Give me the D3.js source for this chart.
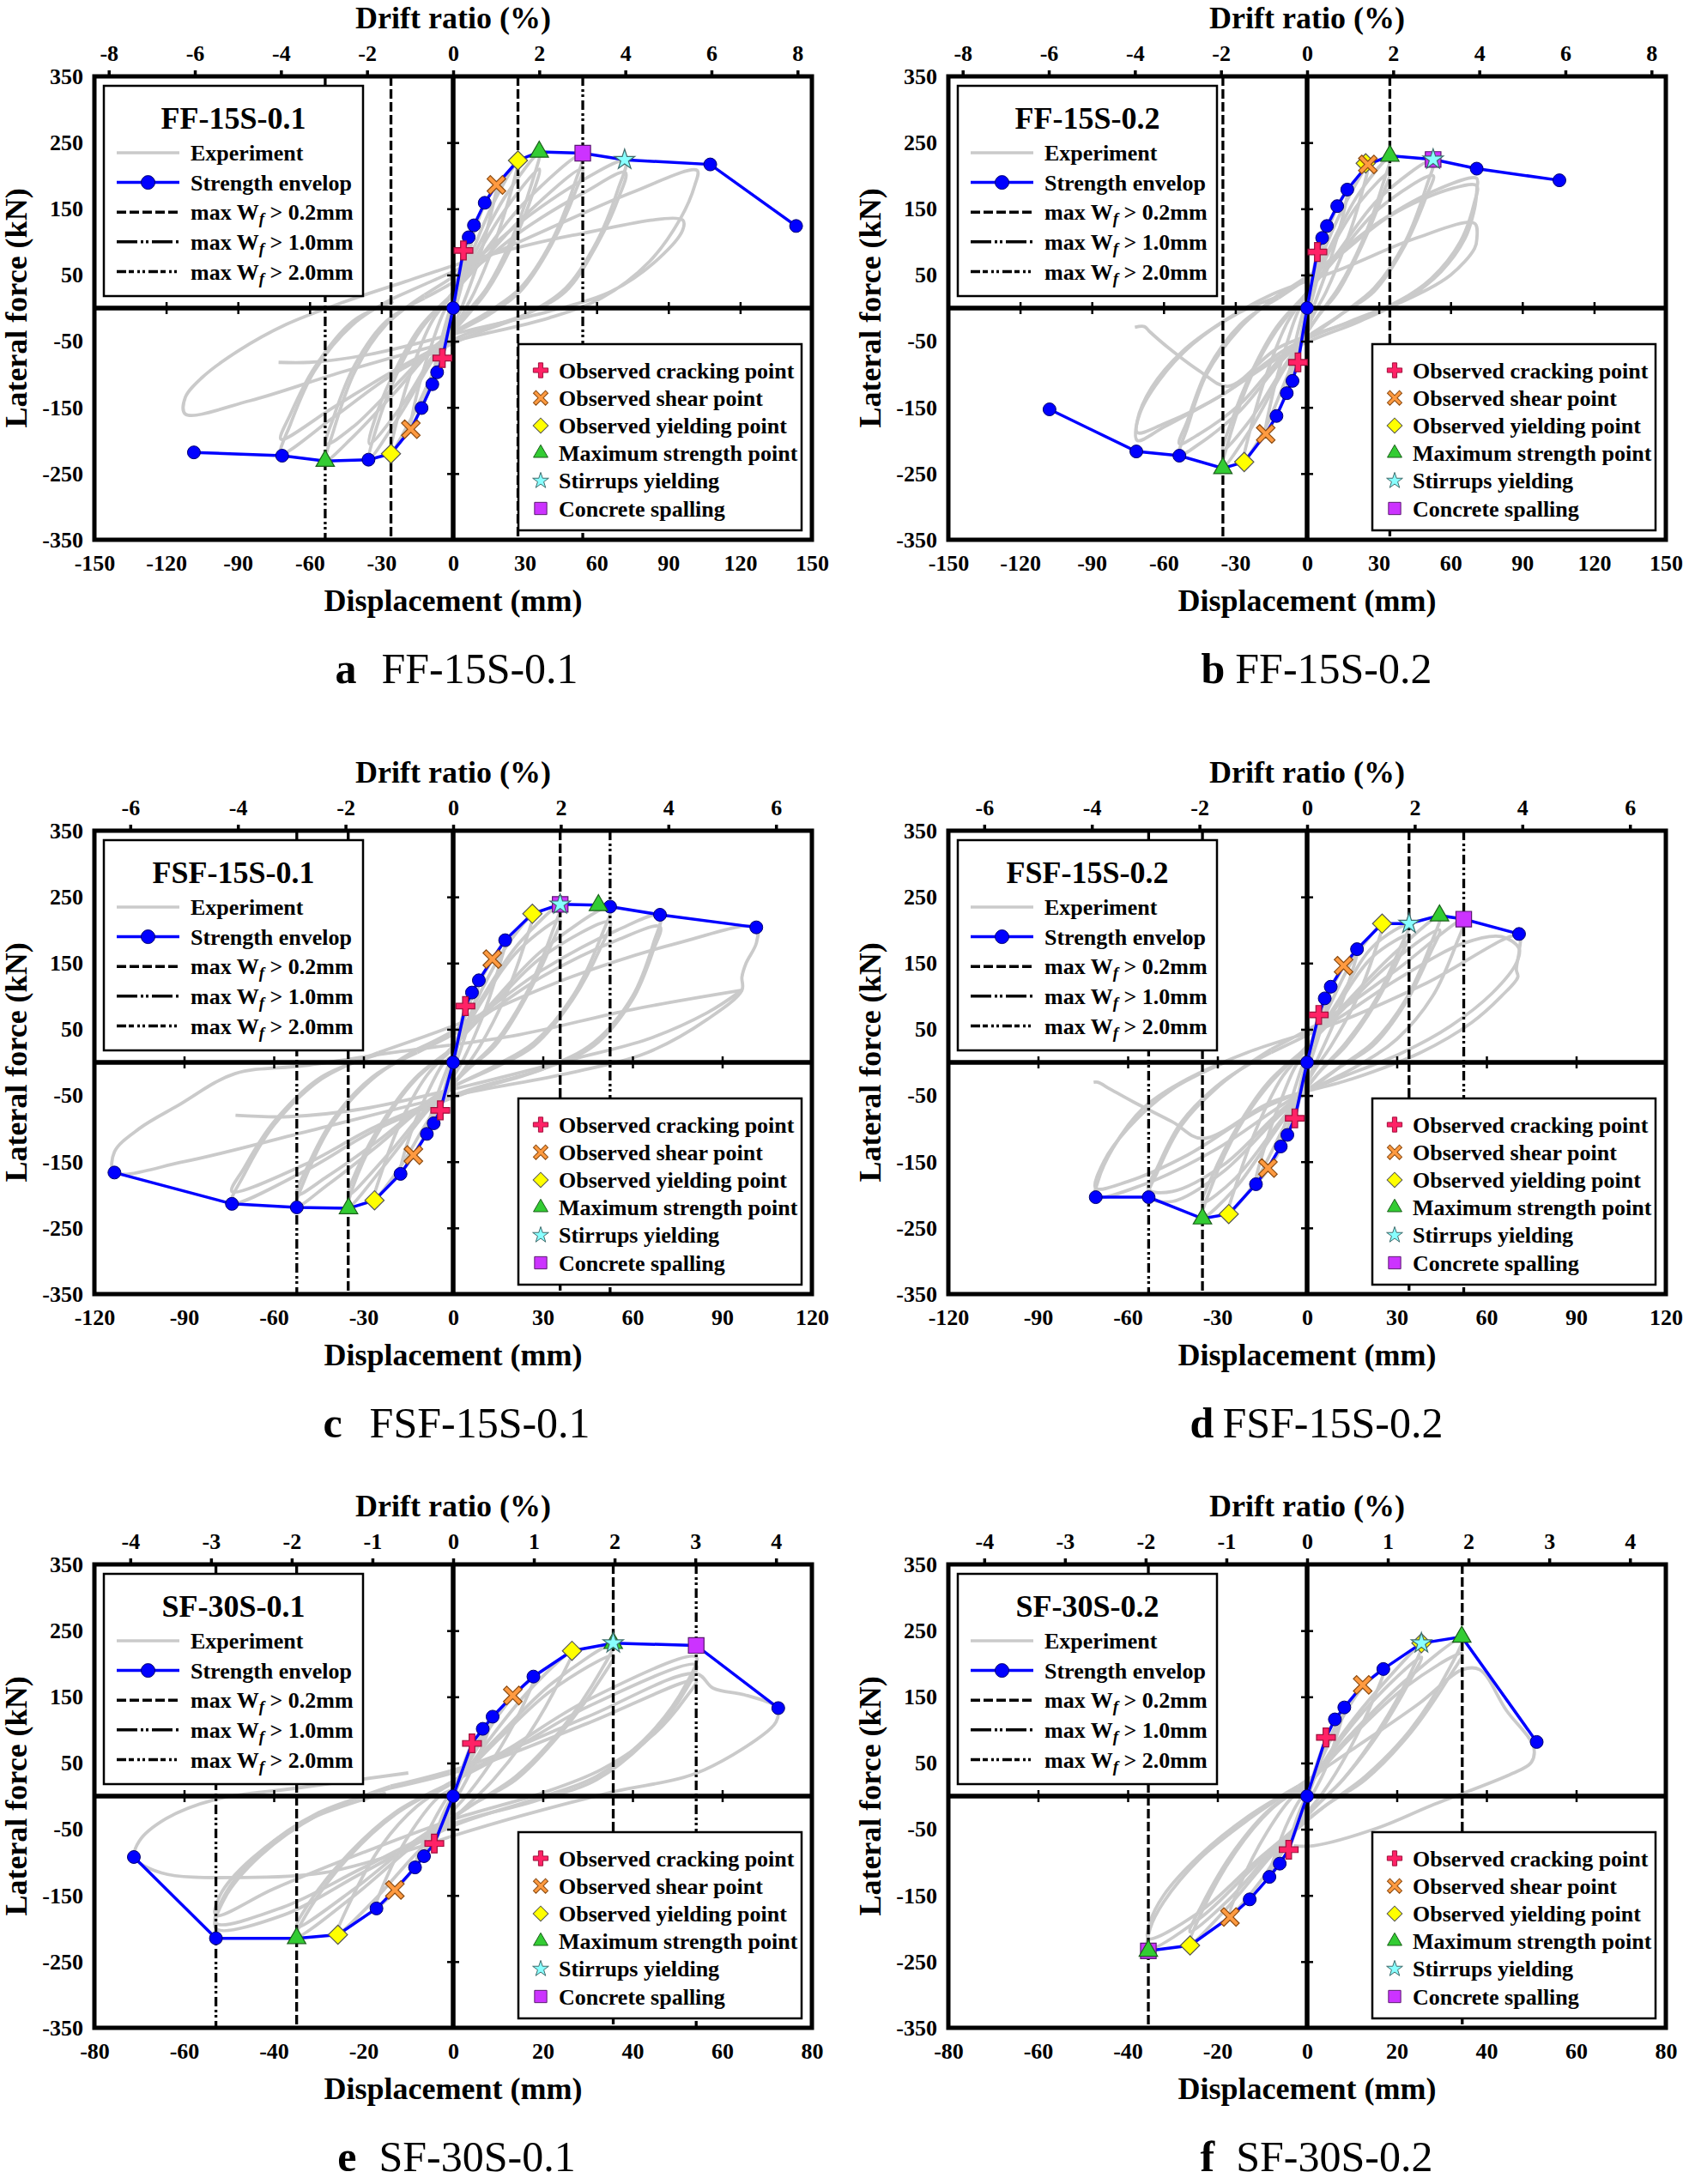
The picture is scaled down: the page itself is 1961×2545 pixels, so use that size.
<!DOCTYPE html>
<html>
<head>
<meta charset="utf-8">
<script src="https://cdn.jsdelivr.net/npm/d3@7"></script>
<style>
  body { margin: 0; background: #fff; }
</style>
</head>
<body>
<script>
// ---- data ----
const panelNames = ["FF-15S-0.1", "FF-15S-0.2", "FSF-15S-0.1", "FSF-15S-0.2", "SF-30S-0.1", "SF-30S-0.2"];
const panelLetters = ["a", "b", "c", "d", "e", "f"];
const dispMax = [150, 150, 120, 120, 80, 80];      // displacement axis (mm)
const dispStep = [30, 30, 30, 30, 20, 20];
const driftMax = [8, 8, 6, 6, 4, 4];               // drift ratio axis (%)
const driftStep = [2, 2, 2, 2, 1, 1];
const forceLabels = [-350, -250, -150, -50, 50, 150, 250, 350];
const forceTicks = [-250, -150, -50, 50, 150, 250];
const colHeight = 1800; // mm, drift = disp / H

// strength envelopes [disp, force]
const envelopeA = [[-108.4,-218],[-71.5,-223],[-53.5,-231],[-35.4,-229],[-26,-220],[-17.7,-183],[-13.2,-151],[-8.7,-115],[-6.7,-97],[-4.5,-75.5],[0,0],[4.3,87],[6.5,107],[8.7,125],[13.2,159],[18.1,186],[27.1,223],[36,236],[54.2,234],[71.7,224],[107.5,217],[143.4,124]];
const envelopeB = [[-107.7,-153],[-71.4,-216.6],[-53.4,-223],[-35.2,-242],[-26.3,-232.5],[-17.3,-190],[-12.8,-163],[-8.5,-128.5],[-6.1,-110],[-3.8,-82],[0,0],[4.3,84.8],[6.3,106],[8.3,124],[12.6,154],[16.8,179],[25.4,217],[34.6,230],[52.7,224.5],[70.9,210.6],[105.5,193]];
const envelopeC = [[-113.3,-166.4],[-74,-213.7],[-52.3,-219],[-35,-220.5],[-26.3,-208.3],[-17.6,-168.4],[-13.3,-140],[-8.8,-108],[-6.5,-92],[-4.3,-72.4],[0,0],[4.1,85],[6.3,105.5],[8.6,124],[13.1,156],[17.4,184.6],[26.5,224.5],[35.8,238.7],[48.6,237.4],[52.5,235.3],[69.2,223],[101.4,204]];
const envelopeD = [[-70.7,-203.6],[-53,-203.6],[-35,-236],[-26.2,-229],[-17.1,-184],[-13.1,-159.6],[-8.8,-127],[-6.6,-109.6],[-4.1,-84.5],[0,0],[3.9,71.7],[5.9,96.7],[7.9,114.3],[12.2,146],[16.7,171],[25.1,209.6],[34.1,209.6],[44.3,221.8],[52.4,216.4],[70.9,194]];
const envelopeE = [[-71.2,-92],[-52.9,-214.7],[-34.9,-214.7],[-25.7,-209.3],[-17.1,-169.7],[-13,-141.8],[-8.5,-107.7],[-6.5,-90.7],[-4.2,-71.6],[0,0],[4.2,79.7],[6.6,101.6],[8.8,120],[13.3,152],[17.9,180.6],[26.5,219.5],[35.7,231],[54.2,227.6],[72.5,133]];
const envelopeF = [[-35.4,-233.8],[-26.1,-225.6],[-17.2,-182.7],[-12.8,-156],[-8.4,-122],[-6.1,-102],[-4.1,-81],[0,0],[4.2,88.6],[6.2,115.9],[8.3,134],[12.4,168],[17,192],[25.5,231],[34.5,240.6],[51.2,81.8]];

// damage points per panel
const crackPts = [[[4.3,87],[-4.5,-75.5]], [[4.3,84.8],[-3.8,-82]], [[4.1,85],[-4.3,-72.4]], [[3.9,71.7],[-4.1,-84.5]], [[4.2,79.7],[-4.2,-71.6]], [[4.2,88.6],[-4.1,-81]]];
const shearPts = [[[18.1,186],[-17.7,-183]], [[25.4,217],[-17.3,-190]], [[13.1,156],[-13.3,-140]], [[12.2,146],[-13.1,-159.6]], [[13.3,152],[-13,-141.8]], [[12.4,168],[-17.2,-182.7]]];
const yieldPts = [[[27.1,223],[-26,-220]], [[24.5,218.6],[-26.3,-232.5]], [[26.5,224.5],[-26.3,-208.3]], [[25.1,209.6],[-26.2,-229]], [[26.5,219.5],[-25.7,-209.3]], [[25.5,231],[-26.1,-225.6]]];
const maxPts = [[[36,236],[-53.5,-231]], [[34.6,230],[-35.2,-242]], [[48.6,237.4],[-35,-220.5]], [[44.3,221.8],[-35,-236]], [[35.7,231],[-34.9,-214.7]], [[34.5,240.6],[-35.4,-233.8]]];
const stirrupPts = [[[71.7,224]], [[52.7,224.5]], [[35.8,238.7]], [[34.1,209.6]], [[35.7,231]], [[25.5,231]]];
const spallPts = [[[54.2,234]], [[52.7,224.5]], [[35.8,238.7]], [[52.4,216.4]], [[54.2,227.6]], [[-35.4,-233.8]]];

// crack width lines [disp, level]
const crackLines = [
  [[-26,"0.2"],[27.1,"0.2"],[-53.5,"1.0"],[54.2,"2.0"]],
  [[-35.2,"0.2"],[34.6,"0.2"]],
  [[-35.1,"0.2"],[35.8,"0.2"],[-52.3,"1.0"],[52.5,"1.0"]],
  [[-35,"0.2"],[34.1,"0.2"],[-53,"1.0"],[52.4,"2.0"]],
  [[-34.9,"0.2"],[35.7,"0.2"],[-52.9,"1.0"],[54.2,"2.0"]],
  [[-35.4,"0.2"],[34.6,"0.2"]]
];

// experimental hysteresis loops (approximate trace)
const expA = [
  [[0,0],[2,45],[4.3,85],[3.5,60],[1,15],[0,-5],[-2,-40],[-4.5,-74],[-3.6,-50],[-1,-10],[0,0]],
  [[0,0],[4,60],[8.7,122],[7.5,95],[4,40],[1,0],[-3,-50],[-8.7,-112],[-7.5,-85],[-4,-35],[-1,0],[0,5]],
  [[0,5],[6,85],[13,155],[18,184],[16,145],[10,65],[4,5],[-2,-45],[-10,-120],[-17.7,-180],[-15.5,-135],[-9,-55],[-3,0],[0,10]],
  [[0,10],[8,85],[17,160],[27,221],[24.5,180],[17,95],[9,25],[3,-15],[-8,-95],[-18,-170],[-26,-218],[-23.5,-170],[-16,-80],[-8,-15],[0,20]],
  [[0,20],[10,90],[22,170],[36,234],[33,190],[24,100],[14,30],[5,-10],[-8,-75],[-22,-160],[-35,-227],[-32,-180],[-23,-95],[-13,-30],[-2,15]],
  [[0,15],[10,80],[22,150],[36,210],[33,170],[24,90],[14,25],[5,-15],[-8,-70],[-22,-150],[-35,-205],[-32,-160],[-23,-85],[-13,-25],[-2,15]],
  [[-2,15],[12,80],[30,160],[54,232],[51,190],[41,100],[28,30],[15,-5],[-5,-50],[-25,-130],[-42,-195],[-53,-229],[-50,-185],[-41,-95],[-28,-25],[-12,20]],
  [[-2,15],[12,70],[30,140],[54,210],[51,175],[41,95],[28,25],[15,-10],[-5,-50],[-25,-120],[-42,-180],[-53,-205],[-50,-165],[-41,-85],[-28,-20],[-12,15]],
  [[-12,20],[5,60],[30,135],[55,195],[72,222],[69,180],[60,100],[47,30],[30,-10],[5,-45],[-25,-100],[-50,-165],[-72,-220],[-68,-175],[-58,-95],[-42,-25],[-25,15]],
  [[-12,15],[5,50],[30,120],[55,175],[72,205],[69,165],[60,95],[47,25],[30,-10],[5,-40],[-25,-95],[-50,-150],[-72,-198],[-68,-160],[-58,-90],[-42,-20],[-25,10]],
  [[-25,15],[0,55],[40,120],[75,175],[102,208],[101,185],[95,135],[82,70],[62,15],[40,-15],[0,-50],[-45,-95],[-85,-140],[-112,-160],[-112,-135],[-105,-105],[-90,-65],[-70,-25],[-45,10],[-20,40],[10,75],[50,110],[96,133],[96,118],[86,75],[66,25],[40,-5],[5,-35],[-35,-70],[-60,-82],[-73,-82]]
];
const expB = [
  [[0,0],[2,45],[4.3,84],[3.5,60],[1,15],[0,-5],[-2,-45],[-3.8,-80],[-3,-55],[-1,-12],[0,0]],
  [[0,0],[4,65],[8.3,122],[7,95],[4,40],[1,0],[-3,-55],[-8.5,-126],[-7.3,-95],[-4,-38],[-1,0],[0,5]],
  [[0,5],[6,90],[12.6,152],[16.8,177],[15,140],[9,65],[3,5],[-3,-55],[-10,-140],[-17.3,-188],[-15,-140],[-9,-60],[-3,0],[0,10]],
  [[0,10],[8,95],[17,165],[25.4,215],[23,175],[16,95],[8,25],[2,-15],[-8,-100],[-18,-185],[-26.3,-230],[-23.5,-180],[-16,-90],[-8,-20],[0,20]],
  [[0,20],[10,95],[22,175],[34.6,228],[31.5,185],[23,100],[13,30],[4,-15],[-10,-95],[-24,-185],[-35.2,-240],[-32,-190],[-23,-100],[-13,-35],[-2,15]],
  [[0,15],[10,90],[22,160],[34.6,205],[31.5,170],[23,95],[13,25],[4,-15],[-10,-90],[-24,-170],[-35.2,-215],[-32,-175],[-23,-95],[-13,-30],[-2,15]],
  [[-2,15],[12,80],[30,165],[52.7,223],[50,185],[41,100],[28,30],[14,-10],[-8,-70],[-28,-155],[-45,-205],[-53.4,-222],[-50,-180],[-42,-100],[-28,-30],[-12,20]],
  [[-2,15],[12,75],[30,150],[52.7,200],[50,170],[41,95],[28,25],[14,-10],[-8,-65],[-28,-145],[-45,-190],[-53.4,-205],[-50,-170],[-42,-95],[-28,-25],[-12,15]],
  [[-12,15],[10,70],[35,140],[60,180],[70.9,185],[70,160],[64,100],[52,45],[38,10],[18,-20],[-8,-60],[-35,-130],[-60,-175],[-71,-188],[-70,-160],[-62,-110],[-48,-55],[-30,-10],[-10,20]],
  [[-12,20],[5,60],[30,130],[55,180],[70.9,196],[71,180],[70,150],[66,105],[56,55],[42,15],[22,-20],[-5,-60],[-35,-130],[-60,-180],[-71,-200],[-71,-170],[-65,-120],[-52,-65],[-35,-20],[-15,20],[15,60],[45,105],[70,128],[71,105],[70,90],[60,50],[40,10],[15,-25],[-12,-60],[-33,-118],[-45,-95],[-58,-60],[-66,-35],[-68,-28],[-72,-29]]
];
const expC = [
  [[0,0],[2,48],[4.1,84],[3.3,60],[1,15],[0,-5],[-2,-40],[-4.3,-71],[-3.4,-50],[-1,-10],[0,0]],
  [[0,0],[4,70],[8.6,122],[7.4,95],[4,40],[1,0],[-3,-45],[-8.8,-106],[-7.5,-80],[-4,-33],[-1,0],[0,5]],
  [[0,5],[6,95],[13.1,155],[17.4,182],[15.4,145],[9.5,65],[3.5,5],[-3,-45],[-10,-115],[-17.6,-166],[-15.5,-125],[-9,-50],[-3,0],[0,10]],
  [[0,10],[8,95],[17,170],[26.5,222],[24,180],[17,95],[9,25],[3,-15],[-8,-85],[-18,-160],[-26.3,-206],[-23.5,-160],[-16,-75],[-8,-15],[0,20]],
  [[0,20],[10,100],[22,180],[35.8,237],[33,195],[24,100],[14,30],[5,-10],[-8,-70],[-22,-150],[-35,-218],[-32,-170],[-23,-90],[-13,-28],[-2,15]],
  [[0,15],[10,95],[22,170],[35.8,215],[33,180],[24,95],[14,25],[5,-10],[-8,-65],[-22,-140],[-35,-200],[-32,-160],[-23,-85],[-13,-25],[-2,15]],
  [[-2,15],[12,85],[30,170],[52.5,234],[49.5,190],[40,100],[27,30],[14,-5],[-5,-50],[-25,-125],[-42,-185],[-52.3,-217],[-49,-170],[-40,-90],[-27,-25],[-12,20]],
  [[-2,15],[12,80],[30,160],[52.5,212],[49.5,175],[40,95],[27,25],[14,-8],[-5,-48],[-25,-118],[-42,-172],[-52.3,-200],[-49,-160],[-40,-85],[-27,-22],[-12,15]],
  [[-12,20],[5,60],[30,140],[55,200],[69.2,222],[67,180],[60,100],[47,30],[30,-10],[5,-45],[-25,-100],[-50,-165],[-74,-212],[-70,-170],[-60,-95],[-44,-25],[-25,15]],
  [[-12,15],[5,55],[30,130],[55,185],[69.2,205],[67,170],[60,95],[47,25],[30,-10],[5,-42],[-25,-95],[-50,-155],[-74,-195],[-70,-160],[-60,-90],[-44,-22],[-25,12]],
  [[-25,15],[0,55],[40,130],[75,180],[101.4,204],[101.4,180],[98,150],[96.6,129],[96.6,109],[85,65],[65,15],[40,-15],[0,-50],[-45,-100],[-90,-150],[-113.3,-166],[-113.3,-135],[-105,-100],[-92,-65],[-73,-17],[-50,-5],[-20,15],[20,40],[60,80],[96.6,109]],
  [[96.6,109],[85,75],[65,35],[40,5],[5,-35],[-30,-70],[-55,-82],[-72.8,-80]]
];
const expD = [
  [[0,0],[2,40],[3.9,71],[3.1,50],[1,12],[0,-5],[-2,-45],[-4.1,-83],[-3.3,-58],[-1,-12],[0,0]],
  [[0,0],[4,65],[7.9,113],[6.8,88],[3.8,38],[1,0],[-3,-55],[-8.8,-125],[-7.5,-95],[-4,-38],[-1,0],[0,5]],
  [[0,5],[6,90],[12.2,144],[16.7,169],[14.7,132],[9,60],[3.5,5],[-3,-55],[-10,-140],[-17.1,-182],[-15,-140],[-9,-60],[-3,0],[0,10]],
  [[0,10],[8,90],[16,160],[25.1,208],[22.7,168],[16,90],[8,25],[2,-15],[-8,-100],[-18,-185],[-26.2,-227],[-23.4,-180],[-16,-90],[-8,-20],[0,20]],
  [[0,20],[10,90],[22,175],[34.1,208],[31,172],[23,95],[13,30],[4,-15],[-10,-100],[-24,-190],[-35,-234],[-31.8,-185],[-23,-100],[-13,-35],[-2,15]],
  [[0,15],[10,85],[22,160],[34.1,192],[31,160],[23,90],[13,25],[4,-15],[-10,-95],[-24,-175],[-35,-212],[-31.8,-172],[-23,-95],[-13,-30],[-2,15]],
  [[-2,15],[12,85],[28,160],[44.3,220],[41.5,180],[33,95],[22,30],[10,-10],[-8,-75],[-28,-165],[-45,-210],[-53,-203],[-50,-165],[-42,-95],[-28,-30],[-12,20]],
  [[-2,15],[12,80],[28,150],[44.3,200],[41.5,168],[33,90],[22,25],[10,-10],[-8,-70],[-28,-155],[-45,-195],[-53,-192],[-50,-158],[-42,-90],[-28,-28],[-12,15]],
  [[-12,15],[8,60],[30,125],[52.4,180],[65,190],[70.9,172],[70,150],[62,105],[48,55],[32,15],[10,-25],[-15,-70],[-40,-140],[-60,-180],[-70.7,-190],[-68,-150],[-60,-100],[-45,-40],[-25,5]],
  [[-12,20],[8,70],[30,140],[52.4,215],[50,180],[42,100],[30,35],[15,-10],[-5,-55],[-30,-130],[-55,-185],[-70.7,-203],[-70,-180],[-65,-130],[-55,-70],[-40,-25],[-20,15],[10,60],[40,120],[70.9,192],[71,170],[70,140],[70.5,129],[65,100],[55,60],[38,15],[15,-25],[-12,-60],[-35,-115],[-45,-90],[-58,-60],[-66,-40],[-70,-30],[-71.4,-30]]
];
const expE = [
  [[0,0],[2,42],[4.2,79],[3.4,55],[1,14],[0,-5],[-2,-38],[-4.2,-70],[-3.4,-48],[-1,-10],[0,0]],
  [[0,0],[4,62],[8.8,119],[7.5,92],[4,38],[1,0],[-3,-45],[-8.5,-106],[-7.3,-80],[-4,-33],[-1,0],[0,5]],
  [[0,5],[6,80],[13.3,150],[17.9,178],[15.8,140],[9.5,62],[3.5,5],[-3,-45],[-10,-120],[-17.1,-168],[-15,-125],[-9,-50],[-3,0],[0,10]],
  [[0,10],[8,85],[17,160],[26.5,218],[24,178],[17,95],[9,25],[3,-15],[-8,-85],[-18,-160],[-25.7,-207],[-23,-160],[-16,-75],[-8,-15],[0,20]],
  [[0,20],[10,90],[22,170],[35.7,229],[33,190],[24,100],[14,30],[5,-10],[-8,-70],[-22,-150],[-34.9,-212],[-32,-170],[-23,-90],[-13,-28],[-2,15]],
  [[0,15],[10,85],[22,160],[35.7,212],[33,178],[24,95],[14,25],[5,-10],[-8,-65],[-22,-140],[-34.9,-198],[-32,-160],[-23,-85],[-13,-25],[-2,15]],
  [[-2,15],[12,70],[30,145],[54.2,210],[52,170],[44,95],[32,30],[18,-5],[0,-45],[-20,-115],[-38,-180],[-52.9,-200],[-51,-155],[-43,-90],[-30,-28],[-14,15]],
  [[-2,15],[12,65],[30,135],[54.2,198],[52,162],[44,90],[32,25],[18,-8],[0,-42],[-20,-108],[-38,-168],[-52.9,-192],[-51,-150],[-43,-85],[-30,-25],[-14,12]],
  [[-14,12],[5,45],[30,110],[54.2,175],[52,150],[45,95],[33,40],[20,5],[0,-35],[-20,-85],[-40,-140],[-52.9,-180],[-52,-150],[-45,-95],[-32,-35],[-15,5]],
  [[-14,15],[5,50],[30,120],[54.2,185],[58,163],[65,153],[72,136],[72.5,129],[72,112],[69,92],[54,34],[36,7],[15,-30],[0,-60],[-10,-82],[-29,-116],[-47,-123],[-65,-116],[-71,-92],[-70,-68],[-64,-34],[-53,-5],[-35,12],[-10,35]]
];
const expF = [
  [[0,0],[2,45],[4.2,87],[3.4,62],[1,15],[0,-5],[-2,-42],[-4.1,-80],[-3.3,-55],[-1,-12],[0,0]],
  [[0,0],[4,70],[8.3,132],[7,100],[4,40],[1,0],[-3,-50],[-8.4,-120],[-7.2,-90],[-4,-35],[-1,0],[0,5]],
  [[0,5],[6,95],[12.4,165],[17,190],[15,150],[9,65],[3.5,5],[-3,-50],[-10,-125],[-17.2,-180],[-15,-135],[-9,-55],[-3,0],[0,10]],
  [[0,10],[8,95],[17,170],[25.5,228],[23,185],[16,100],[8,25],[2,-15],[-8,-90],[-18,-170],[-26.1,-223],[-23.5,-175],[-16,-85],[-8,-20],[0,20]],
  [[0,10],[8,90],[17,160],[25.5,210],[23,175],[16,95],[8,25],[2,-15],[-8,-85],[-18,-160],[-26.1,-205],[-23.5,-165],[-16,-80],[-8,-18],[0,15]],
  [[0,20],[10,95],[22,175],[34.5,238],[31.5,190],[23,100],[13,30],[4,-15],[-10,-95],[-24,-185],[-35.4,-230],[-35,-200],[-32,-160],[-24,-95],[-13,-35],[-2,15]],
  [[0,15],[10,90],[22,165],[34.5,215],[31.5,178],[23,95],[13,25],[4,-15],[-10,-90],[-24,-175],[-35.4,-215],[-35,-190],[-32,-150],[-24,-90],[-13,-30],[-2,15]],
  [[-2,15],[10,70],[25,140],[34.6,191],[38.5,191],[44.5,129],[50.5,75],[50,51],[45.7,34],[27.8,-14],[15.8,-48],[1.4,-75],[-3,-75]]
];

const envelopes = [envelopeA, envelopeB, envelopeC, envelopeD, envelopeE, envelopeF];
const experiments = [expA, expB, expC, expD, expE, expF];
const captionGap = [29, 12, 32, 10, 26, 25];

// ---- layout ----
const FONT = "'Liberation Serif', 'Times New Roman', serif";
const W = 836, H = 540;
const colX = [110, 1105];
const rowY = [89, 968, 1823];

// plus-shaped symbol, size = (total length)^2, arm thickness given as ratio
function plusSymbol(ratio) {
    return {
        draw: function(ctx, size) {
            const r = Math.sqrt(size) / 2, w = r * ratio;
            ctx.moveTo(-r, -w); ctx.lineTo(-w, -w); ctx.lineTo(-w, -r); ctx.lineTo(w, -r);
            ctx.lineTo(w, -w); ctx.lineTo(r, -w); ctx.lineTo(r, w); ctx.lineTo(w, w);
            ctx.lineTo(w, r); ctx.lineTo(-w, r); ctx.lineTo(-w, w); ctx.lineTo(-r, w);
            ctx.closePath();
        }
    };
}

const markerTypes = [
  {key: "crack", label: "Observed cracking point", sym: plusSymbol(0.3), size: 480, rot: 0, fill: "#ff2266", stroke: "#a0103c"},
  {key: "shear", label: "Observed shear point", sym: plusSymbol(0.21), size: 640, rot: 45, fill: "#ff9a40", stroke: "#8a4a10"},
  {key: "yield", label: "Observed yielding point", sym: d3.symbolSquare, size: 250, rot: 45, fill: "#ffff00", stroke: "#555"},
  {key: "max", label: "Maximum strength point", sym: d3.symbolTriangle, size: 200, rot: 0, fill: "#33cc33", stroke: "#1b5e1b"},
  {key: "stir", label: "Stirrups yielding", sym: d3.symbolStar, size: 175, rot: 0, fill: "#88ffff", stroke: "#3d6b6b"},
  {key: "spall", label: "Concrete spalling", sym: d3.symbolSquare, size: 330, rot: 0, fill: "#cc33ff", stroke: "#5a1a70"}
];
const markerData = {crack: crackPts, shear: shearPts, yield: yieldPts, max: maxPts, stir: stirrupPts, spall: spallPts};
// drawing order so overlaps look like the original
const drawOrder = ["spall", "yield", "shear", "crack", "max", "stir"];

const dashFor = {"0.2": "11,4", "1.0": "11,4,3,3,3,4", "2.0": "11,4,3,3,3,4"};

const svg = d3.select("body").append("svg")
    .attr("width", 1961)
    .attr("height", 2545)
    .style("font-family", FONT)
    .style("background", "#fff");

panelNames.forEach(function(name, i) {
    const g = svg.append("g")
        .attr("transform", "translate(" + colX[i % 2] + "," + rowY[Math.floor(i / 2)] + ")");
    drawPanel(g, i);
});

function drawPanel(g, i) {
    const xm = dispMax[i];
    const x = d3.scaleLinear().domain([-xm, xm]).range([0, W]);
    const drift = d3.scaleLinear().domain([-xm * 100 / colHeight, xm * 100 / colHeight]).range([0, W]);
    const y = d3.scaleLinear().domain([-350, 350]).range([H, 0]);

    g.append("clipPath").attr("id", "clip" + i)
        .append("rect").attr("width", W).attr("height", H);
    const plot = g.append("g").attr("clip-path", "url(#clip" + i + ")");

    // experiment curves
    const smooth = d3.line().x(d => x(d[0])).y(d => y(d[1])).curve(d3.curveCatmullRom.alpha(0.5));
    plot.selectAll("path.exp")
        .data(experiments[i])
        .join("path")
            .attr("class", "exp")
            .attr("d", smooth)
            .attr("fill", "none")
            .attr("stroke", "#cacaca")
            .attr("stroke-width", 3.8);

    // zero axes
    plot.append("line").attr("x1", 0).attr("x2", W).attr("y1", y(0)).attr("y2", y(0))
        .attr("stroke", "#000").attr("stroke-width", 5.5);
    plot.append("line").attr("x1", x(0)).attr("x2", x(0)).attr("y1", 0).attr("y2", H)
        .attr("stroke", "#000").attr("stroke-width", 5.5);

    const xTicks = d3.range(-xm + dispStep[i], xm, dispStep[i]).filter(v => v !== 0);
    [d3.axisBottom(x), d3.axisTop(x)].forEach(function(ax) {
        g.append("g")
            .attr("transform", "translate(0," + y(0) + ")")
            .call(ax.tickValues(xTicks).tickSize(7).tickFormat(""))
            .call(a => a.select(".domain").remove())
            .call(a => a.selectAll("line").attr("stroke-width", 2.5));
    });
    [d3.axisLeft(y), d3.axisRight(y)].forEach(function(ax) {
        g.append("g")
            .attr("transform", "translate(" + x(0) + ",0)")
            .call(ax.tickValues(forceTicks).tickSize(7).tickFormat(""))
            .call(a => a.select(".domain").remove())
            .call(a => a.selectAll("line").attr("stroke-width", 2.5));
    });

    // crack width lines
    plot.selectAll("line.crk")
        .data(crackLines[i])
        .join("line")
            .attr("class", "crk")
            .attr("x1", d => x(d[0])).attr("x2", d => x(d[0]))
            .attr("y1", 0).attr("y2", H)
            .attr("stroke", "#000")
            .attr("stroke-width", 3.3)
            .attr("stroke-dasharray", d => dashFor[d[1]]);

    // strength envelope
    plot.append("path")
        .datum(envelopes[i])
        .attr("d", d3.line().x(d => x(d[0])).y(d => y(d[1])))
        .attr("fill", "none")
        .attr("stroke", "#0000ff")
        .attr("stroke-width", 3.5);

    const marked = [];
    markerTypes.forEach(m => markerData[m.key][i].forEach(p => marked.push(p)));
    const plain = envelopes[i].filter(p => !marked.some(q => Math.abs(q[0] - p[0]) < 0.01 && Math.abs(q[1] - p[1]) < 0.01));
    plot.selectAll("circle.env")
        .data(plain)
        .join("circle")
            .attr("class", "env")
            .attr("cx", d => x(d[0]))
            .attr("cy", d => y(d[1]))
            .attr("r", 7.5)
            .attr("fill", "#0000ff")
            .attr("stroke", "#00006e")
            .attr("stroke-width", 1);

    drawOrder.forEach(function(key) {
        const m = markerTypes.find(t => t.key === key);
        plot.selectAll("path.mk-" + key)
            .data(markerData[key][i])
            .join("path")
                .attr("class", "mk-" + key)
                .attr("d", d3.symbol().type(m.sym).size(m.size))
                .attr("transform", d => "translate(" + x(d[0]) + "," + y(d[1]) + ") rotate(" + m.rot + ")")
                .attr("fill", m.fill)
                .attr("stroke", m.stroke)
                .attr("stroke-width", 1.2);
    });

    // left legend
    const lg = g.append("g").attr("transform", "translate(11,11)");
    lg.append("rect").attr("width", 302).attr("height", 245)
        .attr("fill", "#fff").attr("stroke", "#000").attr("stroke-width", 2.5);
    lg.append("text").attr("x", 151).attr("y", 37).attr("dy", "0.35em")
        .attr("text-anchor", "middle").attr("font-size", 36).attr("font-weight", "bold")
        .text(panelNames[i]);
    const rows = [78, 112.6, 147.2, 181.8, 216.4];
    lg.append("line").attr("x1", 15).attr("x2", 88).attr("y1", rows[0]).attr("y2", rows[0])
        .attr("stroke", "#cacaca").attr("stroke-width", 3.5);
    lg.append("line").attr("x1", 15).attr("x2", 88).attr("y1", rows[1]).attr("y2", rows[1])
        .attr("stroke", "#0000ff").attr("stroke-width", 3.5);
    lg.append("circle").attr("cx", 51.5).attr("cy", rows[1]).attr("r", 8)
        .attr("fill", "#0000ff").attr("stroke", "#00006e");
    const legDash = ["11,4", "24,4,3,3,3,4", "11,3,6,4,3,3,3,4"];
    legDash.forEach(function(dash, k) {
        lg.append("line").attr("x1", 15).attr("x2", 88).attr("y1", rows[2 + k]).attr("y2", rows[2 + k])
            .attr("stroke", "#000").attr("stroke-width", 3.5).attr("stroke-dasharray", dash);
    });
    const legText = ["Experiment", "Strength envelop"];
    legText.forEach(function(t, k) {
        lg.append("text").attr("x", 101).attr("y", rows[k]).attr("dy", "0.35em")
            .attr("font-size", 26).attr("font-weight", "bold").text(t);
    });
    ["0.2mm", "1.0mm", "2.0mm"].forEach(function(t, k) {
        const tx = lg.append("text").attr("x", 101).attr("y", rows[2 + k]).attr("dy", "0.35em")
            .attr("font-size", 26).attr("font-weight", "bold");
        tx.append("tspan").text("max W");
        tx.append("tspan").attr("font-style", "italic").attr("font-size", 19).attr("dy", 5).text("f");
        tx.append("tspan").attr("dy", -5).text(" > " + t);
    });

    // right legend
    const rg = g.append("g").attr("transform", "translate(494," + (H - 11 - 217) + ")");
    rg.append("rect").attr("width", 330).attr("height", 217)
        .attr("fill", "#fff").attr("stroke", "#000").attr("stroke-width", 2.5);
    markerTypes.forEach(function(m, k) {
        const yy = 30.5 + k * 32.2;
        rg.append("path")
            .attr("d", d3.symbol().type(m.sym).size(m.size * 0.62))
            .attr("transform", "translate(26," + yy + ") rotate(" + m.rot + ")")
            .attr("fill", m.fill).attr("stroke", m.stroke).attr("stroke-width", 1);
        rg.append("text").attr("x", 47).attr("y", yy).attr("dy", "0.35em")
            .attr("font-size", 26).attr("font-weight", "bold").text(m.label);
    });

    // frame
    g.append("rect").attr("width", W).attr("height", H)
        .attr("fill", "none").attr("stroke", "#000").attr("stroke-width", 5);

    // tick labels
    const fmt = d => String(d);
    g.append("g")
        .attr("transform", "translate(0," + H + ")")
        .call(d3.axisBottom(x).tickValues(d3.range(-xm, xm + 1, dispStep[i])).tickSize(0).tickPadding(18).tickFormat(fmt))
        .call(a => a.select(".domain").remove())
        .attr("font-family", FONT).attr("font-size", 26).attr("font-weight", "bold");
    const dm = driftMax[i];
    g.append("g")
        .call(d3.axisTop(drift).tickValues(d3.range(-dm, dm + 0.5, driftStep[i])).tickSize(7).tickPadding(11).tickFormat(fmt))
        .call(a => a.select(".domain").remove())
        .call(a => a.selectAll("line").attr("stroke-width", 3.5))
        .attr("font-family", FONT).attr("font-size", 26).attr("font-weight", "bold");
    g.append("g")
        .call(d3.axisLeft(y).tickValues(forceLabels).tickSize(0).tickPadding(13).tickFormat(fmt))
        .call(a => a.select(".domain").remove())
        .attr("font-family", FONT).attr("font-size", 26).attr("font-weight", "bold");

    // axis titles
    g.append("text").attr("x", W / 2).attr("y", -69).attr("dy", "0.35em")
        .attr("text-anchor", "middle").attr("font-size", 36).attr("font-weight", "bold")
        .text("Drift ratio (%)");
    g.append("text").attr("x", W / 2).attr("y", H + 70).attr("dy", "0.35em")
        .attr("text-anchor", "middle").attr("font-size", 36).attr("font-weight", "bold")
        .text("Displacement (mm)");
    g.append("text")
        .attr("transform", "translate(-92," + (H / 2) + ") rotate(-90)")
        .attr("dy", "0.35em")
        .attr("text-anchor", "middle").attr("font-size", 36).attr("font-weight", "bold")
        .text("Lateral force (kN)");

    // caption
    const cap = g.append("text")
        .attr("x", i % 2 === 0 ? 422 : 429)
        .attr("y", H + 149).attr("dy", "0.35em")
        .attr("text-anchor", "middle").attr("font-size", 50);
    cap.append("tspan").attr("font-weight", "bold").text(panelLetters[i]);
    cap.append("tspan").attr("dx", captionGap[i]).text(panelNames[i]);
}
</script>
</body>
</html>
